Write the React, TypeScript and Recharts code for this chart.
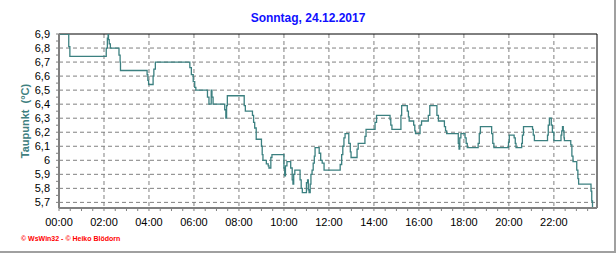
import { LineChart, Line, XAxis, YAxis, CartesianGrid, ReferenceLine } from 'recharts';

// minutes since midnight where the reading changes, and the dew point from there on
const MINUTES = [
  0, 26, 29, 126, 129, 131, 132, 134, 137, 160,
  163, 164, 235, 237, 239, 251, 253, 257, 349, 353,
  358, 362, 365, 396, 400, 406, 408, 411, 442, 445,
  447, 449, 494, 497, 516, 519, 522, 526, 540, 542,
  544, 553, 558, 560, 565, 568, 600, 602, 604, 608,
  618, 622, 624, 626, 629, 643, 646, 649, 660, 663,
  665, 667, 670, 672, 675, 678, 681, 683, 694, 698,
  702, 707, 750, 754, 757, 760, 763, 773, 777, 779,
  795, 798, 816, 819, 843, 847, 883, 885, 888, 912,
  914, 929, 932, 934, 946, 949, 951, 963, 967, 985,
  989, 1008, 1012, 1028, 1031, 1034, 1065, 1067, 1069, 1072,
  1083, 1086, 1089, 1118, 1121, 1124, 1154, 1157, 1160, 1199,
  1201, 1214, 1217, 1219, 1234, 1236, 1239, 1263, 1265, 1268,
  1303, 1305, 1308, 1313, 1316, 1320, 1339, 1341, 1343, 1345,
  1347, 1348, 1365, 1368, 1371, 1381, 1384, 1386, 1419, 1421,
  1423, 1435,
];

const DEWPOINT = [
  6.9, 6.81, 6.74, 6.8, 6.87, 6.9, 6.86, 6.83, 6.8, 6.75,
  6.7, 6.64, 6.61, 6.57, 6.54, 6.6, 6.65, 6.7, 6.66, 6.61,
  6.56, 6.52, 6.5, 6.45, 6.4, 6.5, 6.45, 6.4, 6.36, 6.3,
  6.39, 6.46, 6.39, 6.35, 6.32, 6.27, 6.23, 6.15, 6.1, 6.04,
  6.0, 5.975, 5.96, 5.945, 6.02, 6.04, 5.945, 5.89, 5.96, 5.99,
  5.945, 5.86, 5.83, 5.9, 5.93, 5.86, 5.8, 5.77, 5.84, 5.86,
  5.79, 5.77, 5.83, 5.9, 5.93, 5.98, 6.03, 6.09, 6.05, 6.0,
  5.98, 5.93, 5.97, 6.04, 6.1, 6.16, 6.19, 6.12, 6.06, 6.02,
  6.08, 6.12, 6.17, 6.22, 6.27, 6.32, 6.29, 6.25, 6.22, 6.32,
  6.39, 6.35, 6.31, 6.28, 6.25, 6.21, 6.19, 6.25, 6.28, 6.32,
  6.39, 6.32, 6.28, 6.24, 6.21, 6.19, 6.12, 6.08, 6.16, 6.19,
  6.16, 6.12, 6.09, 6.12, 6.19, 6.24, 6.19, 6.12, 6.09, 6.13,
  6.18, 6.16, 6.12, 6.09, 6.12, 6.18, 6.24, 6.22, 6.18, 6.14,
  6.18, 6.25, 6.3, 6.25, 6.2, 6.14, 6.18, 6.21, 6.24, 6.21,
  6.16, 6.14, 6.11, 6.03, 5.99, 5.93, 5.87, 5.83, 5.78, 5.71,
  5.66, 5.66,
];

const X_TICKS = [
  0, 30, 60, 90, 120, 150, 180, 210, 240, 270, 300, 330,
  360, 390, 420, 450, 480, 510, 540, 570, 600, 630, 660, 690,
  720, 750, 780, 810, 840, 870, 900, 930, 960, 990, 1020, 1050,
  1080, 1110, 1140, 1170, 1200, 1230, 1260, 1290, 1320, 1350, 1380, 1410,
];
const X_LABEL_TIMES = [0, 120, 240, 360, 480, 600, 720, 840, 960, 1080, 1200, 1320];
const X_LABELS = ['00:00', '02:00', '04:00', '06:00', '08:00', '10:00', '12:00', '14:00', '16:00', '18:00', '20:00', '22:00'];

const Y_TICKS = [
  5.7, 5.75, 5.8, 5.85, 5.9, 5.95, 6, 6.05, 6.1, 6.15, 6.2, 6.25,
  6.3, 6.35, 6.4, 6.45, 6.5, 6.55, 6.6, 6.65, 6.7, 6.75, 6.8, 6.85, 6.9,
];
const Y_LABELS = [5.7, 5.8, 5.9, 6, 6.1, 6.2, 6.3, 6.4, 6.5, 6.6, 6.7, 6.8, 6.9];
const Y_GRID = [5.7, 5.8, 5.9, 6, 6.1, 6.2, 6.3, 6.4, 6.5, 6.6, 6.7, 6.8];

const FONT = '"Liberation Sans", Arial, sans-serif';
const LINE_COLOR = '#3b8080';

const data = MINUTES.map((t, i) => ({ t, v: DEWPOINT[i] }));

function XTick(props: any) {
  const { x, y, payload } = props;
  const i = X_LABEL_TIMES.indexOf(payload.value);
  if (i < 0) return <g />;
  return (
    <text x={x} y={y} dy={13} textAnchor="middle" fontSize={11} fontFamily={FONT} fill="#000">
      {X_LABELS[i]}
    </text>
  );
}

function YTick(props: any) {
  const { x, y, payload } = props;
  if (!Y_LABELS.includes(payload.value)) return <g />;
  return (
    <text x={x} y={y} dy={4} textAnchor="end" fontSize={11} fontFamily={FONT} fill="#000">
      {String(payload.value).replace('.', ',')}
    </text>
  );
}

export default function App() {
  return (
    <div style={{ position: 'absolute', left: 0, top: 0, width: 616, height: 253, background: '#fff', fontFamily: FONT }}>
      <div
        style={{
          position: 'absolute', left: 0, top: 0, width: 614, height: 251,
          borderRight: '2px solid #a0a0a0', borderBottom: '2px solid #a0a0a0',
        }}
      />
      <div
        style={{
          position: 'absolute', left: 0, top: 12, width: 616, textAlign: 'center',
          fontSize: 12, fontWeight: 'bold', color: '#1010ff', lineHeight: '12px',
        }}
      >
        Sonntag, 24.12.2017
      </div>
      <div
        style={{
          position: 'absolute', left: 25 - 60, top: 121 - 7, width: 120, height: 14,
          lineHeight: '14px', textAlign: 'center', transform: 'rotate(-90deg)',
          fontSize: 11, fontWeight: 'bold', color: '#408080', whiteSpace: 'pre',
        }}
      >
        {'Taupunkt  (°C)'}
      </div>
      <div
        style={{
          position: 'absolute', left: 21, top: 235, fontSize: 7, fontWeight: 'bold',
          color: '#ff0000', lineHeight: '8px', whiteSpace: 'pre',
        }}
      >
        {'© WsWin32 - © Heiko Blödorn'}
      </div>
      <div style={{ position: 'absolute', left: 0, top: 0 }}>
        <LineChart width={616} height={253} data={data} margin={{ top: 34, right: 19, bottom: 0, left: 0 }}>
          <CartesianGrid
            stroke="#808080"
            strokeDasharray="4 3"
            horizontalValues={Y_GRID}
            verticalValues={X_LABEL_TIMES}
          />
          <XAxis
            dataKey="t"
            type="number"
            domain={[0, 1435]}
            ticks={X_TICKS}
            interval={0}
            tick={XTick}
            tickSize={3}
            tickLine={{ stroke: '#808080' }}
            axisLine={{ stroke: '#808080', strokeWidth: 2 }}
            height={45}
            allowDataOverflow
          />
          <YAxis
            type="number"
            domain={[5.66, 6.9]}
            ticks={Y_TICKS}
            interval={0}
            tick={YTick}
            tickSize={3}
            tickMargin={6}
            tickLine={{ stroke: '#808080' }}
            axisLine={{ stroke: '#808080', strokeWidth: 2 }}
            width={59}
            allowDataOverflow
          />
          <ReferenceLine y={6.9} stroke="#000" />
          <ReferenceLine x={1435} stroke="#000" />
          <Line
            dataKey="v"
            type="stepAfter"
            stroke={LINE_COLOR}
            strokeWidth={1.3}
            dot={false}
            isAnimationActive={false}
          />
        </LineChart>
      </div>
    </div>
  );
}
